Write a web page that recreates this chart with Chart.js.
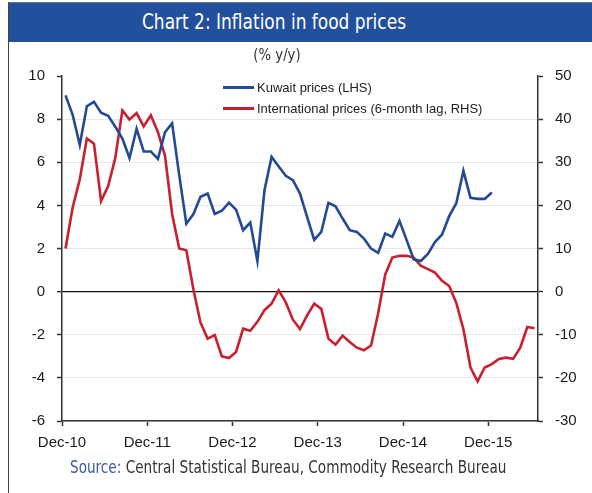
<!DOCTYPE html>
<html>
<head>
<meta charset="utf-8">
<script src="https://cdn.jsdelivr.net/npm/chart.js@4"></script>
<style>
  html, body { margin:0; padding:0; background:#fff; }
  #wrap { position:relative; width:592px; height:493px; overflow:hidden; }
  #chart { position:absolute; left:0; top:0; }
  .frame-l { position:absolute; left:8px; top:2px; width:1px; height:491px; background:#444; }
  .frame-t { position:absolute; left:8px; top:2px; width:584px; height:1px; background:#777; }
  .banner { position:absolute; left:9px; top:3px; width:583px; height:39px; background:#22509c; }
  .narrow { font-family:"Liberation Sans Narrow","DejaVu Sans Condensed","Roboto",sans-serif; font-stretch:condensed; }
  #title { position:absolute; left:0; width:548px; top:10px; text-align:center; color:#fff; font-size:21px; transform:scaleX(0.9); transform-origin:274px 0; }
  #sub { position:absolute; left:0; width:554px; top:45px; text-align:center; color:#333; font-size:16px; transform:scaleX(0.92); transform-origin:277px 0; }
  #source { position:absolute; left:70px; top:457px; font-size:17px; color:#333; white-space:nowrap; transform:scaleX(0.89); transform-origin:0 0; }
  #source span { color:#3a5aa6; }
  .leg { position:absolute; left:223px; font-family:"Liberation Sans",Arial,sans-serif; font-size:13px; color:#222; white-space:nowrap; }
  .leg i { display:inline-block; width:31px; height:2.5px; vertical-align:middle; margin-right:3px; position:relative; top:-1px; }
</style>
</head>
<body>
<div id="wrap">
  <canvas id="chart" width="592" height="493"></canvas>
  <div class="frame-t"></div>
  <div class="frame-l"></div>
  <div class="banner"></div>
  <div id="title" class="narrow">Chart 2: Inflation in food prices</div>
  <div id="sub" class="narrow">(% y/y)</div>
  <div class="leg" style="top:80px"><i style="background:#234a94"></i>Kuwait prices (LHS)</div>
  <div class="leg" style="top:101px"><i style="background:#c9202f"></i>International prices (6-month lag, RHS)</div>
  <div id="source" class="narrow"><span>Source:</span> Central Statistical Bureau, Commodity Research Bureau</div>
</div>
<script>
const months = ('Dec-10 Jan-11 Feb-11 Mar-11 Apr-11 May-11 Jun-11 Jul-11 Aug-11 Sep-11 Oct-11 Nov-11 ' +
  'Dec-11 Jan-12 Feb-12 Mar-12 Apr-12 May-12 Jun-12 Jul-12 Aug-12 Sep-12 Oct-12 Nov-12 ' +
  'Dec-12 Jan-13 Feb-13 Mar-13 Apr-13 May-13 Jun-13 Jul-13 Aug-13 Sep-13 Oct-13 Nov-13 ' +
  'Dec-13 Jan-14 Feb-14 Mar-14 Apr-14 May-14 Jun-14 Jul-14 Aug-14 Sep-14 Oct-14 Nov-14 ' +
  'Dec-14 Jan-15 Feb-15 Mar-15 Apr-15 May-15 Jun-15 Jul-15 Aug-15 Sep-15 Oct-15 Nov-15 ' +
  'Dec-15 Jan-16 Feb-16 Mar-16 Apr-16 May-16 Jun-16').split(' ');

const xTickLabels = ['Dec-10','Dec-11','Dec-12','Dec-13','Dec-14','Dec-15'];

// Kuwait food inflation, % y/y (left axis)
const kuwait = [9.1, 8.2, 6.8, 8.6, 8.8, 8.3, 8.15, 7.65, 7.1, 6.2, 7.55, 6.5,
  6.5, 6.15, 7.4, 7.8, 5.4, 3.15, 3.6, 4.4, 4.55, 3.6, 3.75, 4.13,
  3.8, 2.85, 3.2, 1.42, 4.7, 6.25, 5.8, 5.37, 5.17, 4.55, 3.47, 2.4,
  2.77, 4.12, 3.96, 3.39, 2.85, 2.77, 2.46, 2.0, 1.8, 2.69, 2.54, 3.28,
  2.4, 1.5, 1.42, 1.75, 2.3, 2.65, 3.5, 4.1, 5.6, 4.35, 4.3, 4.3, 4.6];

// International food prices, % y/y, 6-month lag (right axis)
const intl = [10, 19.5, 26, 35.5, 34.3, 21, 24.5, 31, 42, 39.9, 41.4, 38.3,
  40.9, 37, 31.5, 18, 10, 9.6, 0.5, -7.2, -10.9, -10.1, -15, -15.4,
  -14, -8.6, -9.1, -7, -4.3, -2.8, 0.3, -2.5, -6.5, -8.7, -5.5, -2.8,
  -4, -10.9, -12.3, -10.2, -11.7, -13, -13.6, -12.5, -5, 4, 7.9, 8.3,
  8.3, 7.9, 6.0, 5.2, 4.4, 2.5, 1.3, -2.6, -8.7, -17.6, -20.8, -17.6,
  -16.8, -15.6, -15.3, -15.6, -13, -8.2, -8.5];

const tickFont = { family: '"Liberation Sans", Arial, sans-serif', size: 15 };
const ink = '#1a1a1a';

new Chart(document.getElementById('chart'), {
  type: 'line',
  data: {
    datasets: [
      { label: 'Kuwait prices (LHS)', data: kuwait.map((v, i) => ({ x: i + 0.5, y: v })),
        borderColor: '#234a94', borderWidth: 2.6, pointRadius: 0, tension: 0, yAxisID: 'yL' },
      { label: 'International prices (6-month lag, RHS)', data: intl.map((v, i) => ({ x: i + 0.5, y: v })),
        borderColor: '#c9202f', borderWidth: 2.6, pointRadius: 0, tension: 0, yAxisID: 'yR' }
    ]
  },
  options: {
    responsive: false,
    animation: false,
    layout: { padding: { top: 76, left: 0, right: 0, bottom: 0 } },
    plugins: { legend: { display: false }, tooltip: { enabled: false } },
    scales: {
      x: {
        type: 'linear', min: 0, max: months.length,
        afterBuildTicks: s => { s.ticks = xTickLabels.map((_, k) => ({ value: k * 12 })); },
        afterFit: s => { s.height = 72; },
        ticks: { font: tickFont, color: ink, padding: 8, maxRotation: 0, autoSkip: false,
                 callback: v => months[v] },
        grid: { drawOnChartArea: false, drawTicks: true, tickLength: 5, tickColor: '#333', tickWidth: 1.5 },
        border: { color: '#333', width: 1.5 }
      },
      yL: {
        position: 'left', min: -6, max: 10,
        afterFit: s => { s.width = 62; },
        ticks: { stepSize: 2, font: tickFont, color: ink, padding: 12 },
        grid: {
          color: c => c.tick.value === 0 ? '#111' : (c.tick.value === 10 ? 'rgba(0,0,0,0)' : '#e6e6e6'),
          lineWidth: c => c.tick.value === 0 ? 1.3 : 1,
          tickLength: 5, tickColor: '#333', tickWidth: 1.5
        },
        border: { color: '#333', width: 1.5 }
      },
      yR: {
        position: 'right', min: -30, max: 50,
        afterFit: s => { s.width = 54; },
        ticks: { stepSize: 10, font: tickFont, color: ink, padding: 12 },
        grid: { drawOnChartArea: false, tickLength: 5, tickColor: '#333', tickWidth: 1.5 },
        border: { color: '#333', width: 1.5 }
      }
    }
  }
});
</script>
</body>
</html>
